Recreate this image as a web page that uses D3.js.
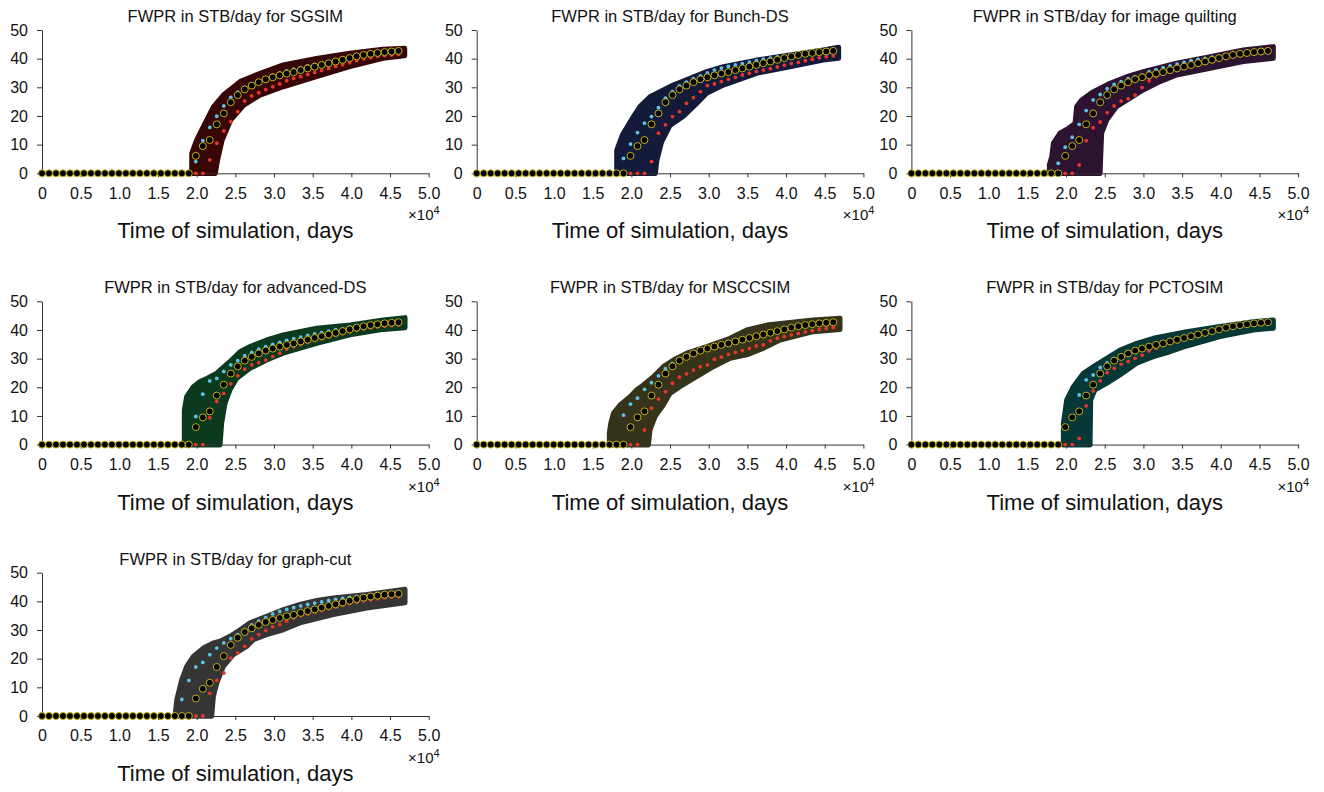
<!DOCTYPE html>
<html>
<head>
<meta charset="utf-8">
<script src="https://cdn.jsdelivr.net/npm/d3@7"></script>
<style>
  html, body { margin: 0; padding: 0; background: #fff; }
  svg { display: block; font-family: "Liberation Sans", Arial, sans-serif; }
  .axis path, .axis line { stroke: #333; }
  .axis text { fill: #111; font-size: 16px; }
</style>
</head>
<body>
<div id="chart"></div>
<script>
// report times, days
const times = [0, 904, 1808, 2712, 3616, 4520, 5424, 6328, 7232, 8136, 9040, 9944, 10848,
  11752, 12656, 13560, 14464, 15368, 16272, 17176, 18080, 18984, 19888, 20792, 21696, 22600,
  23504, 24408, 25312, 26216, 27120, 28024, 28928, 29832, 30736, 31640, 32544, 33448, 34352,
  35256, 36160, 37064, 37968, 38872, 39776, 40680, 41584, 42488, 43392, 44296, 45200, 46104];

// first 20 report steps are zero for every series
const flat = [0, 0, 0, 0, 0, 0, 0, 0, 0, 0, 0, 0, 0, 0, 0, 0, 0, 0, 0, 0];

// reference (true model) FWPR, same in every panel
const reference = [...flat, 0, 0, 6.1, 9.5, 11.6, 17.1, 20.9, 24.8, 27.3, 29.3, 30.6, 31.8, 32.8,
  33.5, 34.2, 34.8, 35.3, 36.0, 36.6, 37.2, 37.8, 38.4, 39.0, 39.6, 40.2, 40.8, 41.3, 41.7,
  42.0, 42.3, 42.5, 42.7];

const panelNames = ['SGSIM', 'Bunch-DS', 'image quilting', 'advanced-DS', 'MSCCSIM', 'PCTOSIM', 'graph-cut'];

// blue and red summary dots for each method
const sgsimBlue = [...flat, 0, 0, 4.1, 11.4, 16.0, 19.9, 23.5, 26.5, 28.3, 30.0, 31.2, 32.3, 33.4, 34.3, 35.0, 35.7, 36.3, 36.9, 37.5, 38.0, 38.5, 39.0, 39.5, 40.0, 40.5, 41.0, 41.4, 41.8, 42.1, 42.3, 42.5, 42.7];
const sgsimRed = [...flat, 0, 0, 0, 0, 4.7, 10.5, 14.8, 18.0, 21.5, 25.2, 27.0, 28.1, 29.2, 30.2, 31.2, 32.3, 33.1, 33.7, 34.5, 35.2, 35.9, 36.6, 37.3, 37.9, 38.6, 39.3, 39.9, 40.4, 40.8, 41.1, 41.3, 41.5];
const bunchBlue = [...flat, 0, 5.2, 10.2, 14.2, 17.5, 19.8, 22.9, 26.2, 28.5, 30.5, 31.8, 33.0, 34.0, 35.0, 36.0, 36.7, 37.3, 37.8, 38.3, 38.8, 39.3, 39.8, 40.2, 40.6, 41.0, 41.4, 41.7, 42.0, 42.3, 42.5, 42.7, 42.9];
const bunchRed = [...flat, 0, 0, 0, 0, 0, 4.1, 14.0, 16.9, 19.8, 21.5, 24.4, 26.4, 28.5, 30.6, 31.2, 32.0, 32.8, 33.5, 34.3, 34.9, 35.5, 36.0, 36.5, 37.1, 37.7, 38.3, 38.7, 39.3, 39.8, 40.3, 40.7, 41.0];
const quiltBlue = [...flat, 0, 3.5, 9.1, 12.6, 17.1, 21.9, 25.6, 27.5, 29.5, 31.0, 32.0, 33.0, 33.7, 34.3, 35.5, 36.2, 36.9, 37.5, 38.1, 38.7, 39.3, 39.7, 40.1, 40.5, 40.9, 41.3, 41.6, 41.9, 42.2, 42.4, 42.6, 42.8];
const quiltRed = [...flat, 0, 0, 0, 0, 2.9, 11.4, 15.9, 17.9, 21.2, 23.5, 25.2, 26.0, 27.3, 29.9, 32.3, 33.8, 34.6, 35.3, 35.9, 36.5, 37.1, 37.7, 38.3, 38.9, 39.5, 40.1, 40.6, 41.0, 41.3, 41.6, 41.8, 42.0];
const advBlue = [...flat, 0, 0, 9.8, 17.6, 22.2, 23.1, 25.5, 27.8, 29.3, 31.0, 32.2, 33.3, 34.2, 35.0, 35.7, 36.4, 37.0, 37.5, 38.1, 38.6, 39.1, 39.6, 40.1, 40.5, 41.0, 41.4, 41.8, 42.1, 42.3, 42.5, 42.7, 42.8];
const advRed = [...flat, 0, 0, 0, 0, 9.4, 15.0, 17.9, 21.2, 24.0, 26.3, 27.8, 28.6, 29.5, 30.7, 31.9, 33.3, 34.1, 34.9, 35.6, 36.3, 36.9, 37.5, 38.1, 38.7, 39.3, 39.8, 40.3, 40.7, 41.0, 41.3, 41.5, 41.7];
const msccBlue = [...flat, 0, 10.3, 14.1, 16.2, 19.3, 21.6, 24.0, 26.5, 28.3, 30.0, 31.2, 32.2, 33.1, 33.9, 34.6, 35.3, 35.9, 36.5, 37.1, 37.7, 38.3, 38.8, 39.4, 39.9, 40.4, 40.9, 41.4, 41.8, 42.1, 42.4, 42.6, 42.8];
const msccRed = [...flat, 0, 0, 0, 0, 5.1, 12.7, 15.9, 18.5, 21.4, 23.5, 24.7, 26.0, 27.2, 27.8, 29.8, 30.5, 31.5, 32.2, 32.8, 33.5, 34.4, 34.8, 36.2, 37.1, 37.7, 38.3, 38.8, 39.3, 39.8, 40.2, 40.6, 40.9];
const pctoBlue = [...flat, 0, 0, 6.1, 9.5, 17.3, 22.6, 24.3, 26.9, 28.5, 30.0, 31.2, 32.2, 33.1, 33.8, 34.5, 35.1, 35.6, 36.3, 36.9, 37.5, 38.1, 38.7, 39.3, 39.9, 40.5, 41.0, 41.5, 41.9, 42.2, 42.5, 42.7, 42.9];
const pctoRed = [...flat, 0, 0, 0, 0, 2.2, 13.5, 18.7, 22.2, 25.1, 26.6, 28.0, 29.0, 30.1, 31.2, 32.7, 33.6, 34.6, 35.3, 35.9, 36.6, 37.2, 37.8, 38.4, 39.0, 39.6, 40.2, 40.7, 41.1, 41.5, 41.8, 42.0, 42.2];
const graphBlue = [...flat, 5.8, 12.4, 17.1, 18.7, 21.4, 23.7, 25.5, 27.0, 28.4, 30.1, 31.8, 33.1, 34.3, 35.6, 36.5, 37.2, 37.8, 38.4, 38.9, 39.4, 39.8, 40.3, 40.7, 41.0, 41.4, 41.7, 42.0, 42.2, 42.4, 42.6, 42.7, 42.8];
const graphRed = [...flat, 0, 0, 0, 0, 7.9, 12.4, 15.0, 20.2, 22.0, 24.3, 26.9, 28.4, 29.9, 31.1, 31.9, 33.1, 34.2, 35.0, 35.6, 36.2, 36.8, 37.4, 38.0, 38.6, 39.2, 39.7, 40.2, 40.6, 40.9, 41.2, 41.5, 41.7];

// ensemble envelopes [days, STB/day]
const sgsimUpper = [[19360, -0.1], [19360, 7.0], [20000, 11.7], [20860, 16.3], [22160, 23.2], [23450, 27.3], [25600, 32.0], [28200, 34.9], [31200, 37.8], [35500, 40.1], [39800, 41.9], [44100, 43.3], [46900, 43.6]];
const sgsimLower = [[22400, -0.1], [22700, 4.6], [23300, 11.6], [24400, 18.6], [26100, 23.8], [28200, 27.3], [31200, 30.2], [35500, 33.7], [39800, 37.2], [44100, 40.1], [46900, 41.0]];
const bunchUpper = [[18100, -0.1], [18100, 8.0], [18750, 12.8], [18960, 14.0], [20260, 19.8], [21100, 23.3], [22400, 26.7], [24130, 29.1], [25400, 30.8], [27580, 33.1], [29740, 35.5], [31900, 37.2], [36200, 39.5], [40500, 41.3], [44800, 43.0], [46800, 44.0]];
const bunchLower = [[23100, -0.1], [23300, 4.6], [23900, 10.9], [25000, 16.7], [26700, 19.8], [28450, 24.4], [29740, 27.9], [31900, 30.8], [36200, 34.9], [40500, 37.2], [44800, 39.5], [46800, 40.1]];
const quiltUpper = [[17840, -0.1], [17840, 3.0], [18140, 5.8], [18360, 10.5], [19210, 14.0], [20290, 15.7], [21150, 17.4], [21370, 23.3], [22000, 25.6], [23530, 28.5], [25680, 31.4], [27840, 33.7], [29990, 35.5], [34300, 38.4], [38620, 40.7], [42930, 43.0], [46800, 44.2]];
const quiltLower = [[24390, -0.1], [24600, 14.0], [25250, 18.6], [26540, 23.3], [28270, 26.2], [29990, 29.1], [32150, 32.0], [34300, 34.3], [38620, 36.6], [42930, 39.0], [46800, 40.1]];
const advUpper = [[18400, -0.1], [18400, 12.0], [18700, 16.7], [19570, 20.2], [20430, 22.0], [21300, 23.1], [22590, 24.9], [24310, 29.0], [25600, 32.4], [26900, 34.2], [29050, 36.5], [31200, 38.3], [35520, 40.6], [39830, 41.7], [44140, 43.5], [46940, 44.3]];
const advLower = [[23020, -0.1], [23230, 7.4], [23660, 14.4], [24310, 19.1], [25170, 23.1], [26900, 26.6], [29050, 29.5], [31200, 31.9], [35520, 35.3], [39830, 38.3], [44140, 40.2], [46940, 40.8]];
const msccUpper = [[17150, -0.1], [17150, 4.0], [17330, 7.4], [17670, 10.9], [18530, 13.8], [19830, 16.7], [20690, 19.1], [21550, 20.8], [22840, 23.7], [24130, 27.2], [25430, 29.5], [27150, 31.9], [29740, 34.2], [32760, 37.1], [34910, 40.0], [37500, 41.7], [41380, 42.9], [43530, 43.5], [46980, 44.1]];
const msccLower = [[22200, -0.1], [22410, 5.1], [23060, 9.8], [24130, 13.8], [25000, 17.9], [26290, 20.2], [28440, 23.7], [30600, 27.2], [32760, 30.1], [34910, 31.3], [37070, 33.6], [39220, 36.5], [43530, 39.4], [46980, 40.2]];
const pctoUpper = [[19650, -0.1], [19650, 7.4], [20080, 15.6], [20940, 20.2], [22230, 24.9], [23530, 27.2], [25250, 30.1], [26970, 33.0], [29130, 35.3], [31280, 37.1], [35590, 39.4], [39900, 41.2], [44210, 42.9], [46800, 43.5]];
const pctoLower = [[23100, -0.1], [23180, 15.6], [23740, 19.1], [25250, 21.4], [26970, 24.3], [29130, 28.4], [31280, 30.7], [33440, 32.4], [35590, 34.4], [39900, 37.7], [44210, 40.0], [46800, 40.6]];
const graphUpper = [[17200, -0.1], [17420, 5.6], [18060, 12.6], [18710, 17.3], [19570, 20.8], [20860, 23.7], [22160, 25.5], [23020, 26.1], [24310, 27.8], [25600, 30.1], [26900, 32.5], [29050, 34.8], [31200, 37.1], [33360, 38.9], [35520, 40.3], [37670, 41.2], [41980, 42.4], [46940, 44.2]];
const graphLower = [[21940, -0.1], [22160, 6.8], [22590, 11.4], [23450, 17.3], [24740, 21.4], [26470, 24.3], [27330, 26.6], [29050, 28.4], [31200, 30.1], [33360, 32.5], [37670, 35.4], [41980, 37.7], [46940, 39.5]];

const yTicks = [0, 10, 20, 30, 40, 50];
const xTicks = [0, 5000, 10000, 15000, 20000, 25000, 30000, 35000, 40000, 45000, 50000];
const xTickLabels = ['0', '0.5', '1.0', '1.5', '2.0', '2.5', '3.0', '3.5', '4.0', '4.5', '5.0'];

const bandColors = ['#370707', '#141b3a', '#2c1330', '#0b3a1f', '#35341a', '#063838', '#353535'];
const blueSeries = [sgsimBlue, bunchBlue, quiltBlue, advBlue, msccBlue, pctoBlue, graphBlue];
const redSeries = [sgsimRed, bunchRed, quiltRed, advRed, msccRed, pctoRed, graphRed];
const upperSeries = [sgsimUpper, bunchUpper, quiltUpper, advUpper, msccUpper, pctoUpper, graphUpper];
const lowerSeries = [sgsimLower, bunchLower, quiltLower, advLower, msccLower, pctoLower, graphLower];

const W = 1324, H = 792;
const colLeft = [42, 476.7, 911.4];
const rowTop = [30, 301.3, 572.7];
const plotW = 386.7, plotH = 143.3;

const svg = d3.select('#chart').append('svg')
  .attr('width', W)
  .attr('height', H);

panelNames.forEach((name, k) => {
  const left = colLeft[k % 3];
  const top = rowTop[Math.floor(k / 3)];
  const g = svg.append('g').attr('transform', `translate(${left},${top})`);

  const x = d3.scaleLinear().domain([0, 50000]).range([0, plotW]);
  const y = d3.scaleLinear().domain([0, 50]).range([plotH, 0]);

  // ensemble band, thick round stroke gives the bundle its soft edge
  const outline = upperSeries[k].concat(lowerSeries[k].slice().reverse());
  g.append('path')
    .datum(outline)
    .attr('d', d3.line().x(d => x(d[0])).y(d => y(d[1])).curve(d3.curveLinearClosed))
    .attr('fill', bandColors[k])
    .attr('stroke', bandColors[k])
    .attr('stroke-width', 5)
    .attr('stroke-linejoin', 'round');

  // axes
  g.append('g')
    .attr('class', 'axis')
    .call(d3.axisLeft(y).tickValues(yTicks).tickSize(5).tickSizeOuter(0).tickPadding(9));

  g.append('g')
    .attr('class', 'axis')
    .attr('transform', `translate(0,${plotH})`)
    .call(d3.axisBottom(x).tickValues(xTicks).tickSize(4).tickSizeOuter(0).tickPadding(10)
      .tickFormat((d, i) => xTickLabels[i]));

  const pts = times.map((t, i) => ({t, ref: reference[i], blue: blueSeries[k][i], red: redSeries[k][i]}));

  g.selectAll('.blue').data(pts).enter().append('circle')
    .attr('class', 'blue')
    .attr('cx', d => x(d.t))
    .attr('cy', d => y(d.blue))
    .attr('r', 1.9)
    .attr('fill', '#5cc3e4');

  g.selectAll('.red').data(pts).enter().append('circle')
    .attr('class', 'red')
    .attr('cx', d => x(d.t))
    .attr('cy', d => y(d.red))
    .attr('r', 1.9)
    .attr('fill', '#e8352b');

  g.selectAll('.ref').data(pts).enter().append('circle')
    .attr('class', 'ref')
    .attr('cx', d => x(d.t))
    .attr('cy', d => y(d.ref))
    .attr('r', 3.5)
    .attr('fill', '#000')
    .attr('stroke', '#c4b21c')
    .attr('stroke-width', 1);

  // title
  g.append('text')
    .attr('x', plotW / 2)
    .attr('y', -8)
    .attr('text-anchor', 'middle')
    .attr('font-size', 16.5)
    .attr('fill', '#111')
    .text(`FWPR in STB/day for ${name}`);

  // exponent
  const ex = g.append('text')
    .attr('x', plotW + 11)
    .attr('y', plotH + 47)
    .attr('text-anchor', 'end')
    .attr('font-size', 15)
    .attr('fill', '#111');
  ex.append('tspan').text('×10');
  ex.append('tspan').attr('font-size', 11).attr('dy', -6).text('4');

  g.append('text')
    .attr('x', plotW / 2)
    .attr('y', plotH + 65)
    .attr('text-anchor', 'middle')
    .attr('font-size', 22)
    .attr('fill', '#111')
    .text('Time of simulation, days');
});
</script>
</body>
</html>
